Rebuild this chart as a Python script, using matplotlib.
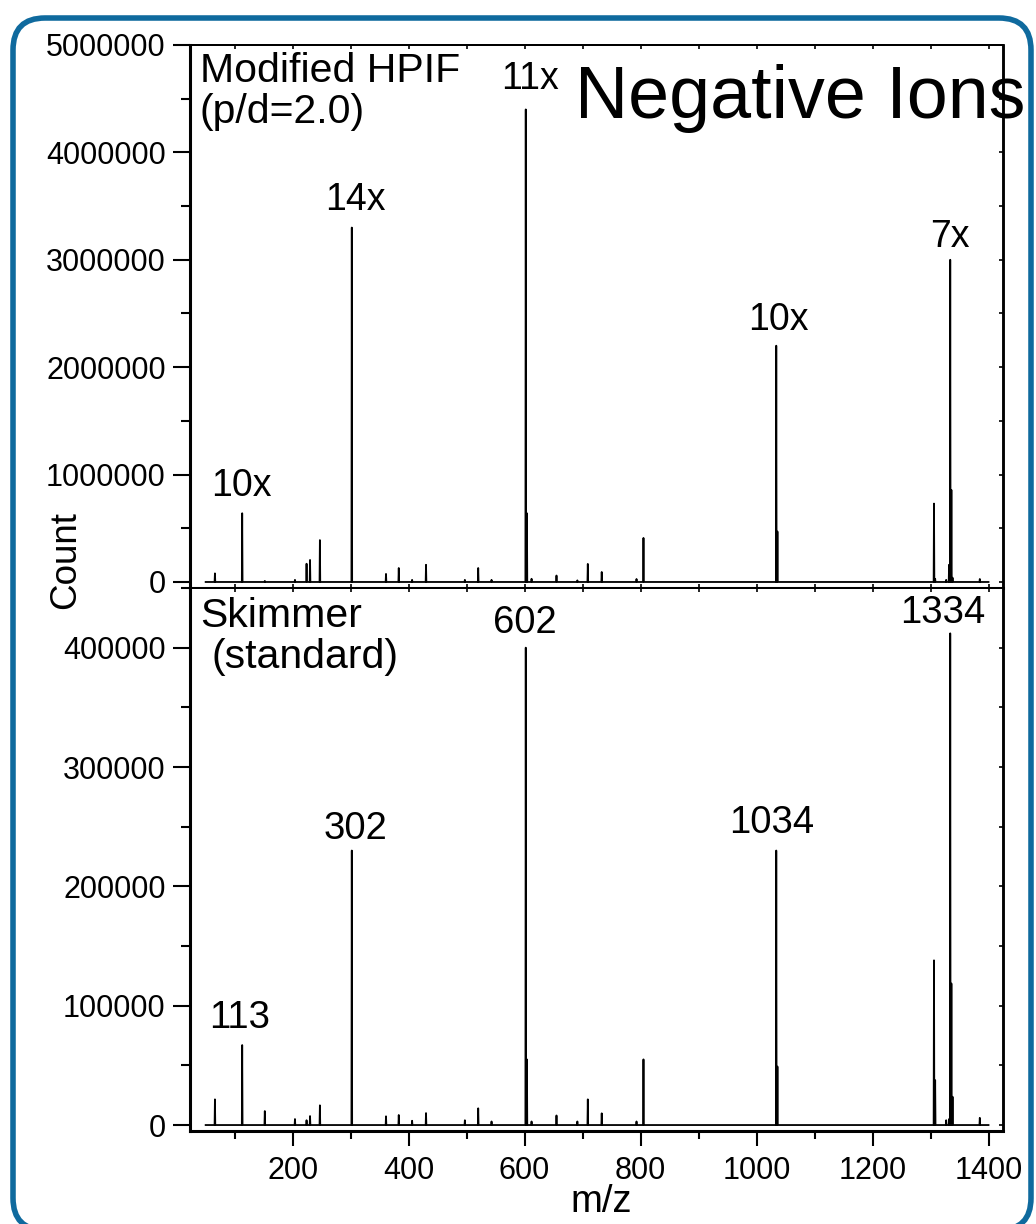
import matplotlib
matplotlib.use("Agg")
import matplotlib.pyplot as plt
from matplotlib.patches import FancyBboxPatch
from matplotlib.ticker import MultipleLocator, FuncFormatter, NullFormatter
from matplotlib.transforms import IdentityTransform

plt.rcParams["font.family"] = ["Liberation Sans", "DejaVu Sans"]

W, H = 1036, 1224

# peak positions (m/z) and counts
peak_mz = [66, 113, 152, 204, 224, 230, 247, 302, 361, 383, 406, 430, 497, 520, 543,
           602, 604, 612, 655, 691, 709, 733, 793, 805, 1034, 1036, 1306, 1308, 1327,
           1332, 1334, 1336, 1338, 1385]
hpif_counts = [80e3, 640e3, 10e3, 20e3, 170e3, 205e3, 390e3, 3300e3, 75e3, 130e3, 20e3,
               160e3, 20e3, 130e3, 20e3, 4400e3, 640e3, 30e3, 60e3, 15e3, 168e3, 93e3,
               28e3, 410e3, 2200e3, 470e3, 730e3, 30e3, 20e3, 160e3, 3000e3, 857e3,
               40e3, 28e3]
skimmer_counts = [21.5e3, 67e3, 11.7e3, 5e3, 4e3, 7.5e3, 16.5e3, 230e3, 7.3e3, 8.4e3,
                  3.6e3, 10e3, 4e3, 14e3, 3e3, 400e3, 55e3, 3e3, 8e3, 3e3, 21.5e3, 9.8e3,
                  3e3, 55e3, 230e3, 49e3, 138e3, 37.6e3, 4e3, 5e3, 412e3, 118.6e3,
                  23.7e3, 6e3]
mz_range = [50, 1400]

# peak annotations: (text, m/z, count at baseline)
hpif_labels = [("10x", 111, 0.80e6), ("14x", 309, 3.46e6), ("11x", 609, 4.59e6),
               ("10x", 1038, 2.35e6), ("7x", 1333, 3.12e6)]
skimmer_labels = [("113", 108, 81e3), ("302", 309, 240e3), ("602", 601, 412e3),
                  ("1034", 1026, 245e3), ("1334", 1321, 421e3)]


def spectrum(mz, counts, w=0.6):
    xs, ys = [mz_range[0]], [0]
    for m, c in sorted(zip(mz, counts)):
        xs += [m - w, m, m + w]
        ys += [0, c, 0]
    xs.append(mz_range[1])
    ys.append(0)
    return xs, ys


def fx(px):
    return px / W


def fy(py):
    return 1 - py / H


fig = plt.figure(figsize=(W / 100, H / 100), dpi=100)

border = FancyBboxPatch((13, -6), 1018, 1212, boxstyle="round,pad=0,rounding_size=32",
                        transform=IdentityTransform(), fill=False,
                        edgecolor="#0f6a9e", linewidth=4)
fig.add_artist(border)

left, width = fx(190), fx(1003) - fx(190)
ax_top = fig.add_axes([left, fy(588), width, fy(45) - fy(588)])
ax_bot = fig.add_axes([left, fy(1131), width, fy(588) - fy(1131)])

int_fmt = FuncFormatter(lambda v, p: f"{int(round(v))}")

for ax, counts, ylim, major in [(ax_top, hpif_counts, (-56000, 5e6), 1e6),
                                (ax_bot, skimmer_counts, (-5000, 450000), 1e5)]:
    xs, ys = spectrum(peak_mz, counts)
    ax.plot(xs, ys, color="black", lw=1.3)
    ax.set_xlim(23, 1425)
    ax.set_ylim(*ylim)
    ax.spines["left"].set_linewidth(2.2)
    ax.spines["bottom"].set_linewidth(2.2)
    ax.spines["top"].set_linewidth(1.4)
    ax.spines["right"].set_linewidth(1.8)
    ax.yaxis.set_major_locator(MultipleLocator(major))
    ax.yaxis.set_minor_locator(MultipleLocator(major / 2))
    ax.yaxis.set_major_formatter(int_fmt)
    ax.tick_params(axis="y", which="major", direction="out", length=12, width=1.5,
                   labelsize=22, pad=5.5, right=False)
    ax.tick_params(axis="y", which="minor", direction="out", length=6.5, width=1.5,
                   right=False)
    # inward ticks on right and top
    sy = ax.secondary_yaxis("right")
    sy.yaxis.set_major_locator(MultipleLocator(major / 2))
    sy.yaxis.set_major_formatter(NullFormatter())
    sy.tick_params(direction="in", length=3, width=1.2)
    sy.spines["right"].set_linewidth(1.8)
    sx = ax.secondary_xaxis("top")
    sx.xaxis.set_major_locator(MultipleLocator(100))
    sx.xaxis.set_major_formatter(NullFormatter())
    sx.tick_params(direction="in", length=3, width=1.2)
    sx.spines["top"].set_linewidth(1.4)

ax_top.xaxis.set_major_locator(MultipleLocator(100))
ax_top.tick_params(axis="x", direction="in", length=3, width=1.2, labelbottom=False)

ax_bot.xaxis.set_major_locator(MultipleLocator(200))
ax_bot.xaxis.set_minor_locator(MultipleLocator(100))
ax_bot.tick_params(axis="x", which="major", direction="out", length=11, width=1.5,
                   labelsize=22, pad=7)
ax_bot.tick_params(axis="x", which="minor", direction="out", length=6, width=1.5)

for text, x, y in hpif_labels:
    ax_top.text(x, y, text, ha="center", va="baseline", fontsize=27)
for text, x, y in skimmer_labels:
    ax_bot.text(x, y, text, ha="center", va="baseline", fontsize=27.5)

fig.text(fx(200), fy(82), "Modified HPIF", fontsize=29.5, va="baseline")
fig.text(fx(200), fy(123), "(p/d=2.0)", fontsize=29.5, va="baseline")
fig.text(fx(200), fy(627), "Skimmer", fontsize=29.5, va="baseline")
fig.text(fx(212), fy(668), "(standard)", fontsize=29.5, va="baseline")
fig.text(fx(575), fy(118), "Negative Ions", fontsize=53, va="baseline")
fig.text(fx(66), fy(560), "Count", fontsize=26.5, rotation=90, ha="center", va="center")
fig.text(fx(601), fy(1212), "m/z", fontsize=27.5, ha="center", va="baseline")

fig.savefig("out.png", dpi=100)
